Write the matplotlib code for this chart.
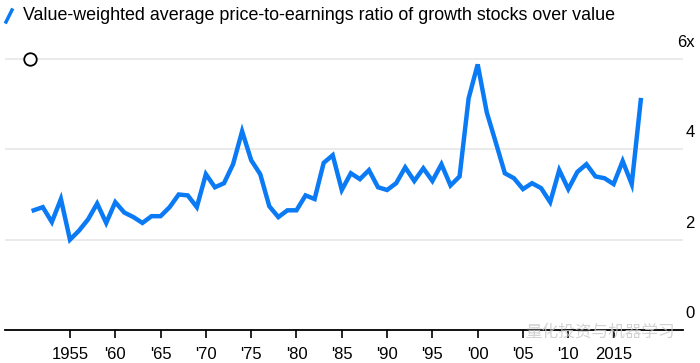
import matplotlib
matplotlib.use("Agg")
import matplotlib.pyplot as plt
from matplotlib.lines import Line2D
import matplotlib.transforms as mtransforms

years = list(range(1951, 2019))
pe_ratio = [
    2.65, 2.72, 2.39, 2.90, 2.00, 2.20, 2.45, 2.80, 2.37, 2.83,
    2.60, 2.50, 2.37, 2.52, 2.52, 2.72, 3.00, 2.98, 2.72, 3.45,
    3.16, 3.25, 3.67, 4.40, 3.76, 3.45, 2.74, 2.50, 2.65, 2.65,
    2.98, 2.90, 3.70, 3.87, 3.10, 3.47, 3.34, 3.54, 3.16, 3.10,
    3.25, 3.60, 3.30, 3.58, 3.30, 3.67, 3.20, 3.40, 5.13, 5.88,
    4.82, 4.15, 3.47, 3.36, 3.12, 3.25, 3.14, 2.83, 3.54, 3.12,
    3.50, 3.67, 3.40, 3.36, 3.23, 3.74, 3.23, 5.09,
]

x_ticks = [1955, 1960, 1965, 1970, 1975, 1980, 1985, 1990, 1995, 2000, 2005, 2010, 2015]
x_labels = ["1955", "'60", "'65", "'70", "'75", "'80", "'85", "'90", "'95", "'00", "'05", "'10", "2015"]
y_ticks = [0, 2, 4, 6]
y_labels = ["0", "2", "4", "6x"]

title = "Value-weighted average price-to-earnings ratio of growth stocks over value"
watermark = "量化投资与机器学习"

blue = "#0a7af5"
W, H = 700, 363

fig = plt.figure(figsize=(7, 3.63), dpi=100)
ax = fig.add_axes([5 / W, 1 - 330 / H, 678 / W, (330 - 40) / H])

ax.plot(years, pe_ratio, color=blue, lw=3.2, solid_joinstyle="miter", zorder=3)
ax.plot([1950.6], [6.0], marker="o", ms=9, mfc="white", mec="black", mew=1.3,
        clip_on=False, zorder=4)

ax.set_xlim(1947.83, 2022.66)
ax.set_ylim(0, 6.0 + 19 / 45.17)

for s in ["top", "right", "left"]:
    ax.spines[s].set_visible(False)
ax.spines["bottom"].set_color("black")
ax.spines["bottom"].set_linewidth(1.3)

ax.set_yticks(y_ticks)
ax.set_yticklabels([])
ax.tick_params(axis="y", length=0)
ax.grid(axis="y", color="#e8e8e8", lw=1.3)
ax.set_axisbelow(True)

ax.set_xticks(x_ticks)
ax.set_xticklabels(x_labels, fontsize=12, family="Liberation Sans")
ax.tick_params(axis="x", direction="out", length=6, width=1.2, pad=6, colors="black")

trans = mtransforms.blended_transform_factory(ax.transAxes, ax.transData)
for v, lab in zip(y_ticks, y_labels):
    ax.text(1 + 12 / 678, v + 0.2, lab, transform=trans, ha="right", va="bottom",
            fontsize=12, family="Liberation Sans", color="black")

fig.add_artist(Line2D([6 / W, 12 / W], [1 - 22 / H, 1 - 10 / H], color=blue, lw=2.5,
                      transform=fig.transFigure))
fig.text(23 / W, 1 - 16 / H, title, ha="left", va="center", fontsize=12.9,
         family="Liberation Sans", color="black")

fig.text(675 / W, 1 - 332 / H, watermark, ha="right", va="center", fontsize=12,
         family=["Noto Sans CJK SC", "DejaVu Sans"], color="#c8c8c8", alpha=0.8)

fig.savefig("out.png", dpi=100)
